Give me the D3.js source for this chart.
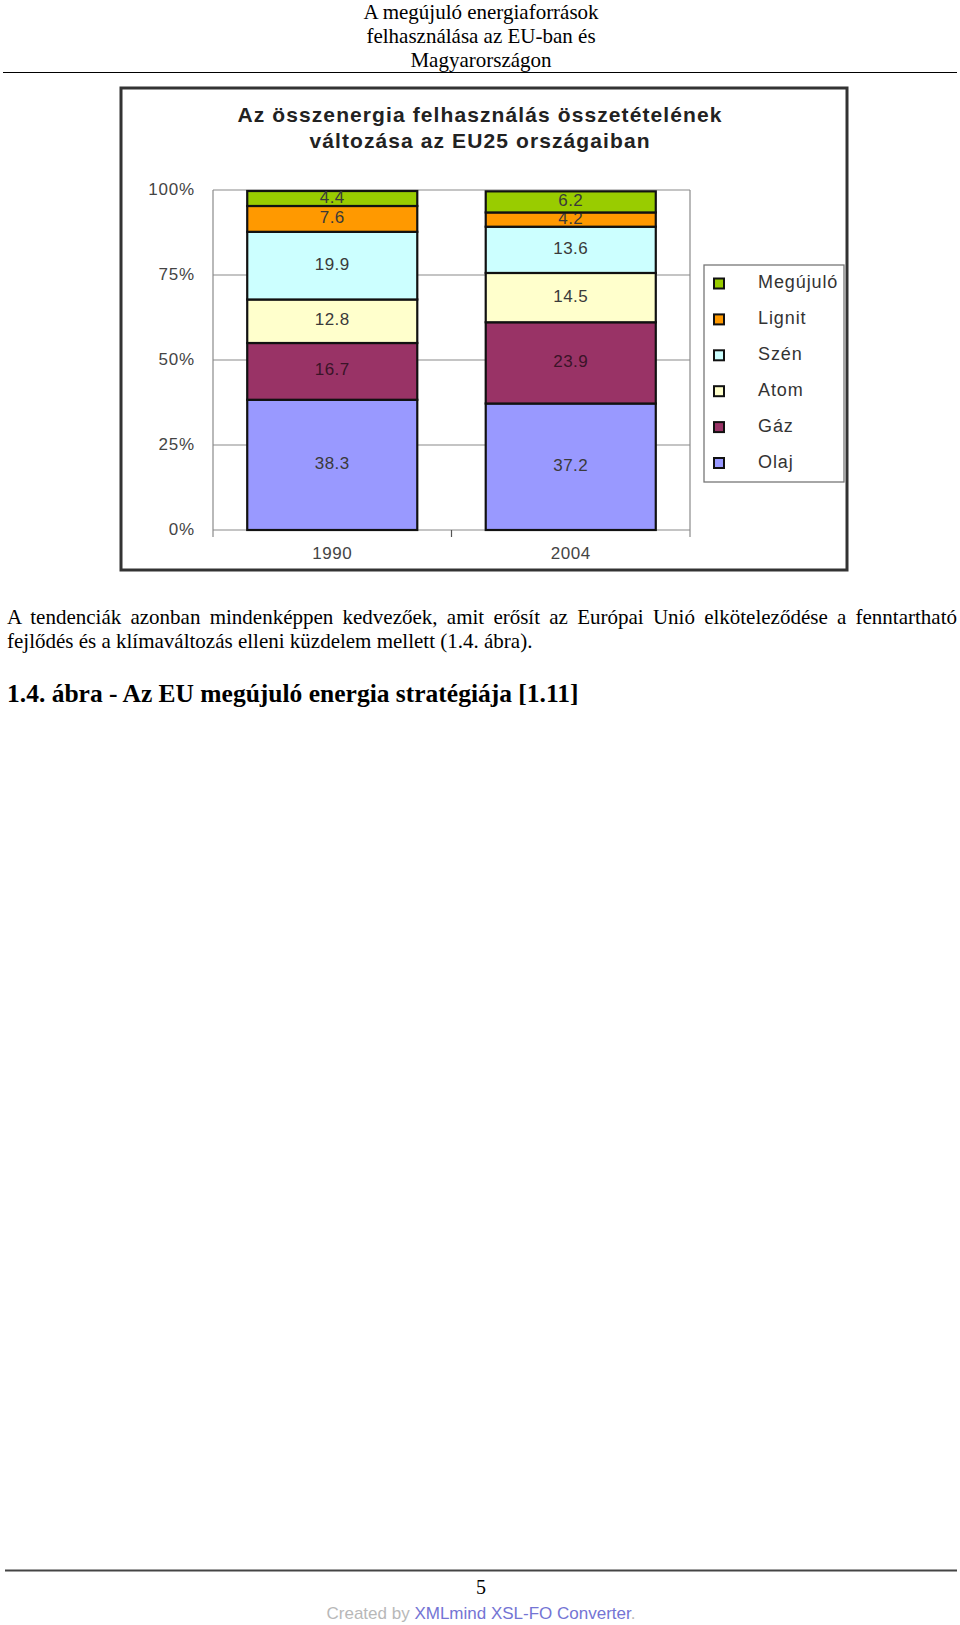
<!DOCTYPE html>
<html><head><meta charset="utf-8">
<script src="https://cdn.jsdelivr.net/npm/d3@7"></script>
<style>
html,body{margin:0;padding:0;background:#fff;}
svg{display:block;}
</style></head>
<body>
<script>
// ---- data ----
const categories = ["1990", "2004"];
const seriesNames = ["Olaj", "Gáz", "Atom", "Szén", "Lignit", "Megújuló"];
const olaj = [38.3, 37.2];
const gaz = [16.7, 23.9];
const atom = [12.8, 14.5];
const szen = [19.9, 13.6];
const lignit = [7.6, 4.2];
const megujulo = [4.4, 6.2];
const yTicks = [0, 25, 50, 75, 100];
const yTickLabels = ["0%", "25%", "50%", "75%", "100%"];
const seriesColors = ["#9999ff", "#993366", "#ffffcc", "#ccffff", "#ff9900", "#99cc00"];
const chartTitle = ["Az összenergia felhasználás összetételének", "változása az EU25 országaiban"];

const headerLines = ["A megújuló energiaforrások", "felhasználása az EU-ban és", "Magyarországon"];
const bodyLines = ["A tendenciák azonban mindenképpen kedvezőek, amit erősít az Európai Unió elköteleződése a fenntartható",
                   "fejlődés és a klímaváltozás elleni küzdelem mellett (1.4. ábra)."];
const headingText = "1.4. ábra - Az EU megújuló energia stratégiája [1.11]";

const seriesValues = [olaj, gaz, atom, szen, lignit, megujulo];
const rows = categories.map((c, i) => {
  const r = {cat: c};
  seriesNames.forEach((s, j) => r[s] = seriesValues[j][i]);
  return r;
});

const W = 960, H = 1625;
const svg = d3.select("body").append("svg").attr("width", W).attr("height", H);
svg.append("rect").attr("width", W).attr("height", H).attr("fill", "#fff");

const serif = "'Liberation Serif','Times New Roman',serif";
const sans = "'Liberation Sans',Arial,sans-serif";

// ---- page header ----
svg.selectAll("text.hdr").data(headerLines).join("text")
  .attr("class", "hdr")
  .attr("x", 481).attr("y", (d, i) => 19 + i * 24)
  .attr("text-anchor", "middle")
  .style("font-family", serif).style("font-size", "21px").attr("fill", "#000")
  .text(d => d);
svg.append("line").attr("x1", 3).attr("x2", 957).attr("y1", 72.5).attr("y2", 72.5)
  .attr("stroke", "#000").attr("stroke-width", 1);

// ---- chart frame ----
svg.append("rect").attr("x", 121).attr("y", 88).attr("width", 726).attr("height", 482)
  .attr("fill", "#fff").attr("stroke", "#333").attr("stroke-width", 3);

svg.selectAll("text.ctitle").data(chartTitle).join("text")
  .attr("class", "ctitle")
  .attr("x", 480).attr("y", (d, i) => 122 + i * 26)
  .attr("text-anchor", "middle")
  .style("font-family", sans).style("font-size", "21px").style("font-weight", "bold")
  .style("letter-spacing", "1.1px")
  .attr("fill", "#222").text(d => d);

// ---- scales ----
const plotL = 213, plotR = 690, plotT = 190, plotB = 530;
const x = d3.scaleBand().domain(categories).range([plotL, plotR])
  .paddingInner(0.287).paddingOuter(0.1435);
const y = d3.scaleLinear().domain([0, 100]).range([plotB, plotT]);

const g = svg.append("g");
// gridlines
g.selectAll("line.grid").data(yTicks).join("line")
  .attr("class", "grid")
  .attr("x1", plotL).attr("x2", plotR)
  .attr("y1", d => y(d)).attr("y2", d => y(d))
  .attr("stroke", "#8a8a8a").attr("stroke-width", 1.2);
// plot side borders
[plotL, plotR].forEach(px => {
  g.append("line").attr("x1", px).attr("x2", px).attr("y1", y(100)).attr("y2", y(0) + 7)
    .attr("stroke", "#8a8a8a").attr("stroke-width", 1.2);
});
// x axis tick between categories
const midX = (x(categories[0]) + x.bandwidth() + x(categories[1])) / 2;
g.append("line").attr("x1", midX).attr("x2", midX)
  .attr("y1", plotB).attr("y2", plotB + 7).attr("stroke", "#555").attr("stroke-width", 1.2);

// y labels
g.selectAll("text.ylab").data(yTicks).join("text")
  .attr("class", "ylab")
  .attr("x", 195).attr("y", d => y(d) + 5)
  .attr("text-anchor", "end")
  .style("font-family", sans).style("font-size", "17px").style("letter-spacing", "0.8px")
  .attr("fill", "#444").text((d, i) => yTickLabels[i]);

// x labels
g.selectAll("text.xlab").data(categories).join("text")
  .attr("class", "xlab")
  .attr("x", d => x(d) + x.bandwidth() / 2).attr("y", plotB + 29)
  .attr("text-anchor", "middle")
  .style("font-family", sans).style("font-size", "17px").style("letter-spacing", "0.6px")
  .attr("fill", "#444").text(d => d);

// stacked bars
const stack = d3.stack().keys(seriesNames)(rows);
const layers = g.selectAll("g.layer").data(stack).join("g")
  .attr("class", "layer")
  .attr("fill", (d, i) => seriesColors[i]);
layers.selectAll("rect").data(d => d).join("rect")
  .attr("x", d => x(d.data.cat))
  .attr("width", x.bandwidth())
  .attr("y", d => y(d[1]))
  .attr("height", d => y(d[0]) - y(d[1]))
  .attr("stroke", "#111").attr("stroke-width", 2.2);
layers.selectAll("text").data((d) => d.map(v => ({v, key: d.key}))).join("text")
  .attr("x", d => x(d.v.data.cat) + x.bandwidth() / 2)
  .attr("y", d => (y(d.v[0]) + y(d.v[1])) / 2 + 4)
  .attr("text-anchor", "middle")
  .style("font-family", sans).style("font-size", "17px").style("letter-spacing", "0.5px")
  .attr("fill", d => d.key === "Gáz" ? "#3a1428" : "#3a3a3a")
  .text(d => d3.format(".1f")(d.v.data[d.key]));

// legend
const leg = svg.append("g");
leg.append("rect").attr("x", 704).attr("y", 265).attr("width", 140).attr("height", 217)
  .attr("fill", "#fff").attr("stroke", "#777").attr("stroke-width", 1.3);
const legOrder = seriesNames.slice().reverse();
const ly = d3.scalePoint().domain(legOrder).range([283.5, 463]);
legOrder.forEach(name => {
  const idx = seriesNames.indexOf(name);
  leg.append("rect").attr("x", 714).attr("y", ly(name) - 5).attr("width", 10).attr("height", 10)
    .attr("fill", seriesColors[idx]).attr("stroke", "#111").attr("stroke-width", 2);
  leg.append("text").attr("x", 758).attr("y", ly(name) + 4.5)
    .style("font-family", sans).style("font-size", "18px").style("letter-spacing", "0.9px")
    .attr("fill", "#333").text(name);
});

// ---- body text ----
const b1 = svg.append("text").attr("x", 7).attr("y", 624)
  .style("font-family", serif).style("font-size", "21px").attr("fill", "#000").text(bodyLines[0]);
const natural = b1.node().getComputedTextLength();
const nSpaces = bodyLines[0].split(" ").length - 1;
b1.style("word-spacing", ((950 - natural) / nSpaces) + "px");
svg.append("text").attr("x", 7).attr("y", 648)
  .style("font-family", serif).style("font-size", "21px").attr("fill", "#000").text(bodyLines[1]);
svg.append("text").attr("x", 7).attr("y", 702)
  .style("font-family", serif).style("font-size", "25.5px").style("font-weight", "bold")
  .attr("fill", "#000").text(headingText);

// ---- footer ----
svg.append("line").attr("x1", 5).attr("x2", 957).attr("y1", 1570.5).attr("y2", 1570.5)
  .attr("stroke", "#444").attr("stroke-width", 2);
svg.append("text").attr("x", 481).attr("y", 1594).attr("text-anchor", "middle")
  .style("font-family", serif).style("font-size", "20px").attr("fill", "#000").text("5");
const ft = svg.append("text").attr("x", 481).attr("y", 1619).attr("text-anchor", "middle")
  .style("font-family", sans).style("font-size", "17px");
ft.append("tspan").attr("fill", "#b8b8b8").text("Created by ");
ft.append("tspan").attr("fill", "#7474d4").text("XMLmind XSL-FO Converter");
ft.append("tspan").attr("fill", "#b8b8b8").text(".");
</script>
</body></html>
